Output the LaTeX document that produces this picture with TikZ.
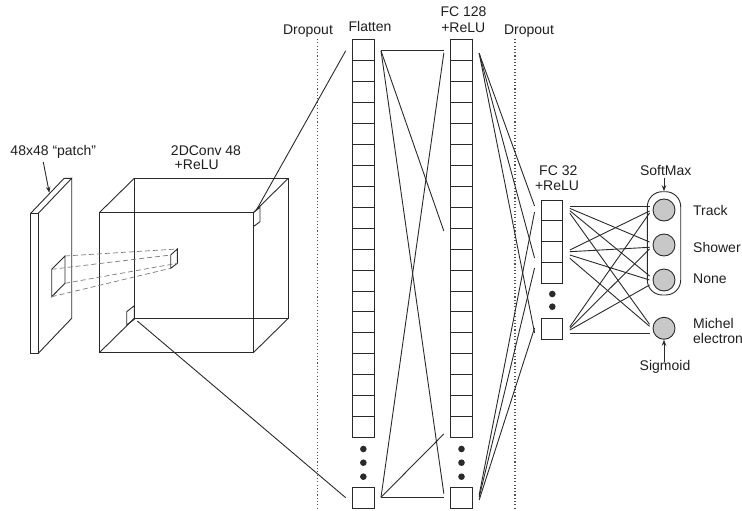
\documentclass[tikz,border=0pt]{standalone}
\usepackage{fontspec}
\setmainfont{Liberation Sans}
\usetikzlibrary{calc,arrows.meta}
\definecolor{ink}{HTML}{2A2A2A}
\definecolor{txt}{HTML}{1E1E1E}
\definecolor{cfill}{HTML}{C8C8C8}
\definecolor{dotc}{HTML}{505050}
\definecolor{dashc}{HTML}{7A7A7A}
\begin{document}
\begin{tikzpicture}[x=1pt,y=-1pt,
  lbl/.style={font=\fontsize{14}{16}\selectfont, text=txt, inner sep=0pt, anchor=base},
  lblw/.style={lbl, anchor=base west},
  ln/.style={line width=0.9pt, draw=ink},
  cell/.style={draw=ink, line width=0.9pt, minimum width=21.3pt, minimum height=20.97pt, inner sep=0pt, outer sep=0pt},
  bcell/.style={cell, minimum height=20.7pt},
  outc/.style={circle, draw=ink, line width=0.9pt, fill=cfill, minimum size=22pt, inner sep=0pt},
  dropline/.style={draw=dotc, line width=1.1pt, dash pattern=on 1.1pt off 2.2pt},
  hidden/.style={draw=dashc, line width=0.7pt, dash pattern=on 5pt off 3pt},
  arr/.style={ln, -{Stealth[length=6pt,width=4.5pt]}},
  dotmark/.style={fill=ink}
]
\useasboundingbox (0,0) rectangle (742,511);

% ---------- input patch (slab) ----------
\draw[ln] (30.7,213.3) rectangle (38.3,353.3);
\draw[ln] (38.3,213.3) -- (71.7,178.3) -- (71.7,318.3) -- (38.3,353.3);
\draw[ln] (30.7,213.3) -- (64.1,178.3) -- (71.7,178.3);
\draw[ln] (51.7,269.3) -- (65,256) -- (65,283.3) -- (51.7,296.7) -- cycle;

% ---------- conv cube ----------
\draw[ln] (99.3,212.7) rectangle (253.3,352.7);
\draw[ln] (134.3,178.3) rectangle (288.3,318.3);
\draw[ln] (99.3,212.7) -- (134.3,178.3);
\draw[ln] (253.3,212.7) -- (288.3,178.3);
\draw[ln] (253.3,352.7) -- (288.3,318.3);
\draw[ln] (99.3,352.7) -- (134.3,318.3);
% small kernel boxes
\draw[ln] (170.7,255) -- (177.3,249) -- (177.3,263.3) -- (170.7,268.3) -- cycle;
\draw[ln] (253.3,212.7) -- (260,207.3) -- (260,221.7) -- (253.3,226.7);
\draw[ln] (126.7,311.7) -- (134.3,305.7) -- (134.3,319.3) -- (126.7,325) -- cycle;
% receptive field lines
\draw[hidden] (65,256) -- (177.3,249);
\draw[hidden] (51.7,269.3) -- (170.7,255);
\draw[hidden] (65,283.3) -- (177.3,263.3);
\draw[hidden] (51.7,296.7) -- (170.7,268.3);

% ---------- labels left ----------
\node[lbl] (patch) at (53.3,155) {48x48 “patch”};
\coordinate (slabtop) at (49.3,192.7);
\draw[arr] ($(patch.south)+(-10,4)$) -- (slabtop);
\node[lbl] (convA) at (206,155.5) {2DConv 48};
\node[lbl] (convB) at (196.7,169.3) {+ReLU};

% ---------- dropout lines ----------
\node[lbl] (drop1) at (308,35) {Dropout};
\node[lbl] (drop2) at (529,35) {Dropout};
\draw[dropline] (317.7,39) -- (317.7,511);
\draw[dropline] (515,39) -- (515,511);

% ---------- Flatten column ----------
\node[lbl] (flatlbl) at (370,31.7) {Flatten};
\foreach \i in {1,...,19} \node[cell] (f\i) at (363.35,{49.8+(\i-1)*20.97}) {};
\node[bcell] (fb) at (363.35,497.7) {};
\foreach \yy in {449,462.7,476.7} \fill[dotmark] (363.35,\yy) circle (3.3pt);

% ---------- FC128 column ----------
\node[lbl] (fcA) at (463.5,16.7) {FC 128};
\node[lbl] (fcB) at (463.3,32.3) {+ReLU};
\foreach \i in {1,...,19} \node[cell] (g\i) at (461.5,{49.8+(\i-1)*20.97}) {};
\node[bcell] (gb) at (461.5,497.7) {};
\foreach \yy in {449,462.7,476.7} \fill[dotmark] (461.5,\yy) circle (3.3pt);

% ---------- FC32 column ----------
\node[lbl] (fcC) at (558.3,175.7) {FC 32};
\node[lbl] (fcD) at (557,190.7) {+ReLU};
\foreach \i in {1,...,4} \node[cell, minimum height=20.8pt] (h\i) at (552.2,{210.4+(\i-1)*20.8}) {};
\node[cell, minimum height=21pt] (hb) at (552.2,328.8) {};
\foreach \yy in {294,306.7} \fill[dotmark] (552.3,\yy) circle (3.3pt);

% ---------- outputs ----------
\node[draw=ink, line width=0.9pt, rounded corners=15pt, minimum width=33.4pt, minimum height=103.3pt, inner sep=0pt] (grp) at (664,243.35) {};
\node[outc] (track) at (664,210) {};
\node[outc] (shower) at (664,245) {};
\node[outc] (none) at (664,280) {};
\node[outc] (michel) at (664,328.3) {};
\node[lblw] (tTrack) at (693,215) {Track};
\node[lblw] (tShower) at (693,252) {Shower};
\node[lblw] (tNone) at (693,283.3) {None};
\node[lblw] (tMichel) at (693,328.5) {Michel};
\node[lblw] (tElectron) at (693,343.3) {electron};
\node[lbl] (softmax) at (665.7,175.7) {SoftMax};
\node[lbl] (sigmoid) at (665,370.8) {Sigmoid};
\draw[arr] ($(softmax.south)+(-1.7,1.5)$) -- (grp.north);
\draw[arr] ($(sigmoid.north)+(-1,2)$) -- (michel.south);

% ---------- cube -> flatten ----------
\coordinate (cubeTR) at (256.5,209.8);
\coordinate (cubeBL) at (137.3,321);
\draw[ln] (cubeTR) -- ($(f1.west)+(-7,1)$);
\draw[ln] (cubeBL) -- ($(fb.west)+(-7,0)$);

% ---------- flatten -> FC128 ----------
\draw[ln] ($(f1.east)+(7,1)$) -- ($(g1.west)+(-7,1)$);
\draw[ln] ($(f1.east)+(7,1)$) -- ($(g10.west)+(-7,-7.5)$);
\draw[ln] ($(f1.east)+(7,1)$) -- ($(gb.west)+(-7,-4)$);
\draw[ln] ($(fb.east)+(7,-0.4)$) -- ($(g1.west)+(-7,3)$);
\draw[ln] ($(fb.east)+(7,-0.4)$) -- ($(g19.west)+(-7,6.7)$);
\draw[ln] ($(fb.east)+(7,-0.4)$) -- ($(gb.west)+(-7,-0.4)$);

% ---------- FC128 -> FC32 ----------
\draw[ln] ($(g1.east)+(7,3.5)$) -- ($(h1.west)+(-7,-4.4)$);
\draw[ln] ($(g1.east)+(7,3.5)$) -- ($(h3.west)+(-7,6)$);
\draw[ln] ($(g1.east)+(7,3.5)$) -- ($(hb.west)+(-7,4)$);
\draw[ln] ($(gb.east)+(7,-2.7)$) -- ($(h1.west)+(-7,1.6)$);
\draw[ln] ($(gb.east)+(7,-0.4)$) -- ($(h4.west)+(-7,-4.8)$);
\draw[ln] ($(gb.east)+(7,2.3)$) -- ($(hb.west)+(-7,-0.8)$);

% ---------- FC32 -> outputs ----------
\draw[ln] ($(h1.east)+(7,-3.7)$) -- ($(track.west)+(-3,-3.3)$);
\draw[ln] ($(h1.east)+(7,-2)$) -- ($(shower.west)+(-3,-3)$);
\draw[ln] ($(h1.east)+(7,0.3)$) -- ($(none.west)+(-3,-4)$);
\draw[ln] ($(h1.east)+(7,2.9)$) -- ($(michel.west)+(-3,-4)$);
\draw[ln] ($(h3.east)+(7,-2)$) -- ($(track.west)+(-3,1)$);
\draw[ln] ($(h3.east)+(7,-0.3)$) -- ($(shower.west)+(-3,2.3)$);
\draw[ln] ($(h3.east)+(7,3)$) -- ($(none.west)+(-3,0)$);
\draw[ln] ($(h3.east)+(7,6.3)$) -- ($(michel.west)+(-3,-2)$);
\draw[ln] ($(hb.east)+(7,-2.1)$) -- ($(track.west)+(-3,3)$);
\draw[ln] ($(hb.east)+(7,-0.5)$) -- ($(shower.west)+(-3,4)$);
\draw[ln] ($(hb.east)+(7,1.2)$) -- ($(none.west)+(-3,5)$);
\draw[ln] ($(hb.east)+(7,4.5)$) -- ($(michel.west)+(-3,5)$);
\end{tikzpicture}
\end{document}
